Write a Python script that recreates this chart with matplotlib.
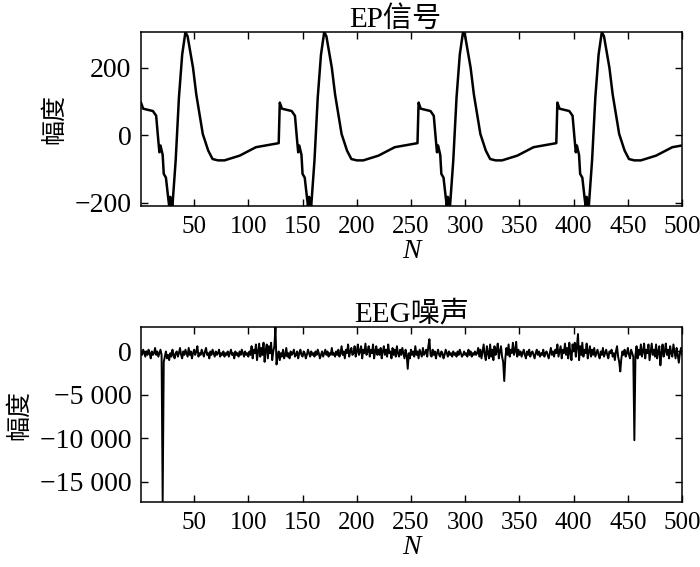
"""EP signal and EEG noise, two stacked panels."""
import numpy as np
import matplotlib
matplotlib.use('Agg')
import matplotlib.pyplot as plt
from matplotlib.ticker import FuncFormatter

plt.rcParams['font.family'] = ['Liberation Serif', 'Noto Sans CJK SC']
plt.rcParams['font.size'] = 19

# One EP period: offset from the jump, amplitude
EP_PERIOD = 128
EP_START = 1
EP_N_PERIODS = 4
ep_offset = [0, 2, 11, 14, 16, 17, 18, 20, 21, 23, 25, 26, 27, 28, 29, 32,
             35, 38, 41, 43, 48, 51, 57, 62, 66, 71, 77, 91, 106, 127]
ep_value = [97, 79, 72, 58, -16, -50, -30, -58, -114, -125, -182, -209, -182,
            -200, -209, -74, 112, 239, 306, 293, 200, 121, 4, -45, -70, -74,
            -74, -60, -35, -23]

# EEG noise, one value per sample N = 1..500
eeg_noise = [
    0, -400, 200, -200, -600, 0, -400, 200, -200, -800,
    0, -400, -200, 400, -400, 0, -600, -200, 200, -400,
    -17300,
    -1200, -600, 0, -800, -400, -1000, -200, -600, 200, -400,
    -800, -200, 0, -600, -200, 400, -400, -800, 0,
    -400, 200, -200, -600, 400, -400, 0, -800, -200, 200,
    -400, 0, 600, -600, -200, -400, 200, -200, -600, 0,
    400, -400, -200, -800, 0, -400, 200, -200, -600, 0,
    -400, -200, 200, -600, -200, -400, 0, -600, -200, -400,
    0, -600, -200, 200, -400, -200, -800, 0, -400, -200,
    -600, 0, -400, 200, -200, -600, 0, -400, -200, -600,
    0, -400, 600, -800, 200, -200, 800, -1000, 0, 900,
    -600, 400, -400, 1000, -1200, 200, 800, -800, 600, -200,
    1000, -1000, 0, 600,
    2800,
    -1500, -600, 0, -1000, -200, -600, 200, -800, -400, 400,
    -600, -200, -800, 0, -400,
    -200, 200, -600, -400, 0, -800, -200, 200, -400, -600,
    0, -200, -800, -400, 200, -200, -600, 0, -400, -200,
    -600, 0, -400, 200, -200, -800, -400, 0, -600, -200,
    200, -400, 0, -600, -200, -400, 400, -400, -200, -600,
    0, -400, 200, -600, -200, 600, -400, 0, -800, 200,
    -200, 800, -600, 0, 400, -400, -200, 600, -600, 0,
    800, -400, 0, 600, -800, 200, -200, 900, -400, 0,
    600, -600, 200, -200, 800, -800, 0, 600, -400, 200,
    -400, 400, -800, 0, 600, -400, 200, -600, 800, -200,
    0, -800, 400, -400, 200, -600, 600, -200, -600, 200,
    -400, 400, -200, -800, 200, -400,
    -2000,
    -200, -800, 200, -400, 0, -600, 600, -400, 0, -800,
    200, -200, -600, 400, -400, -200, 200, -600, 600,
    1400, -400,
    -600, 200, -400, 0, -800, -200, 200, -400, -600, 0,
    -200, -800, -400, 200, -200, -600, 0, -400, -200, -600,
    0, -400,
    -200, -600, 0, -400, 200, -200, -600, -400, 0, -400,
    -200, -600, 200, -400, 0, -600, -200, -400, 0, -400,
    -200, 400, -600, 200, -800, 0, 800, -400, -1000, 600,
    -200, -800, 800, -600, 200, -1000, 600, -400, 0, 900,
    -800, 0, 600, -600, -1200,
    -3400,
    -800, 400, -400, 800, -600, 200, -200, 1000, -400, 0,
    1100, -600, 200, -400,
    0, -600, -200, 200, -400, -800, 0, -400, 200, -600,
    -200, 0, -400, -800, -200, 200, -400, 0, -600, -200,
    -400, 200, -600, -200, 0, -400, -800, -200, 400, -400,
    0, -600, 200, -200, 800, -600, 0, 600, -800, 200,
    -200, 900, -400, 400, -800, 1000, -200, -1000, 800, 0,
    1000, -600, 600,
    2000,
    -1000, 600, -400, 1000, -600, 200, -200, 900, -800, 0,
    600, -600, 200, -400, 400, -600,
    -200, 200, -400, -800, 0, -400, 400, -600, -200, 200,
    -400, -800, 0, -200, 200, -600, -200, -1000, 0, 600,
    -600, -1200,
    -2300, -800,
    0, -400, 200, -600, -200, 400, -400, -800, 200, -200,
    -600,
    -10200,
    -400, 600, -800, 200, -400, 800, -600, 0, 900, -800,
    200, -200, 800, -1000, 0, 900, -400, 200, -600, 800,
    -800, 0, 600,
    -1600,
    -200, 800, -600, 0, 900, -400, 200, -800, 600, -200,
    -600, 800, 0, -800, 400, -400, -1300, -200, 400, -400,
]

X_TICKS = list(range(50, 501, 50))
EP_Y_TICKS = [-200, 0, 200]
EEG_Y_TICKS = [-15000, -10000, -5000, 0]


def thousands(v, pos):
    return f'{v:,.0f}'.replace(',', ' ').replace('-', '\u2212')


def style_axis(ax, title, yticks, title_x=0.5):
    ax.set_xlim(1, 500)
    ax.set_xticks(X_TICKS)
    ax.set_yticks(yticks)
    ax.tick_params(direction='in', top=True, right=True, length=5,
                   width=1, pad=7)
    ax.tick_params(axis='x', labelsize=18)
    ax.tick_params(axis='y', labelsize=20)
    for spine in ax.spines.values():
        spine.set_linewidth(1.1)
    ax.set_title(title, fontsize=21, pad=4, x=title_x)
    ax.set_xlabel('N', fontstyle='italic', fontsize=20, labelpad=1)
    ax.set_ylabel('幅度', fontsize=18, labelpad=6)


def main():
    fig = plt.figure(figsize=(7.0, 5.67), dpi=100)
    ax1 = fig.add_axes([0.2014, 0.6367, 0.773, 0.3069])
    ax2 = fig.add_axes([0.2014, 0.1146, 0.773, 0.3086])

    # EP signal: the read period repeated
    ep_x = np.concatenate([np.array(ep_offset) + EP_START + k * EP_PERIOD
                           for k in range(EP_N_PERIODS)])
    ep_y = np.tile(ep_value, EP_N_PERIODS)
    ax1.plot(ep_x, ep_y, color='black', lw=1.8)
    ax1.set_ylim(min(ep_value), max(ep_value))
    style_axis(ax1, 'EP信号', EP_Y_TICKS, title_x=0.47)

    # EEG noise
    n = np.arange(1, len(eeg_noise) + 1)
    ax2.plot(n, eeg_noise, color='black', lw=1.4)
    ax2.set_ylim(min(eeg_noise), max(eeg_noise))
    style_axis(ax2, 'EEG噪声', EEG_Y_TICKS)
    ax2.yaxis.set_major_formatter(FuncFormatter(thousands))

    fig.savefig('out.png', dpi=100)


if __name__ == '__main__':
    main()
